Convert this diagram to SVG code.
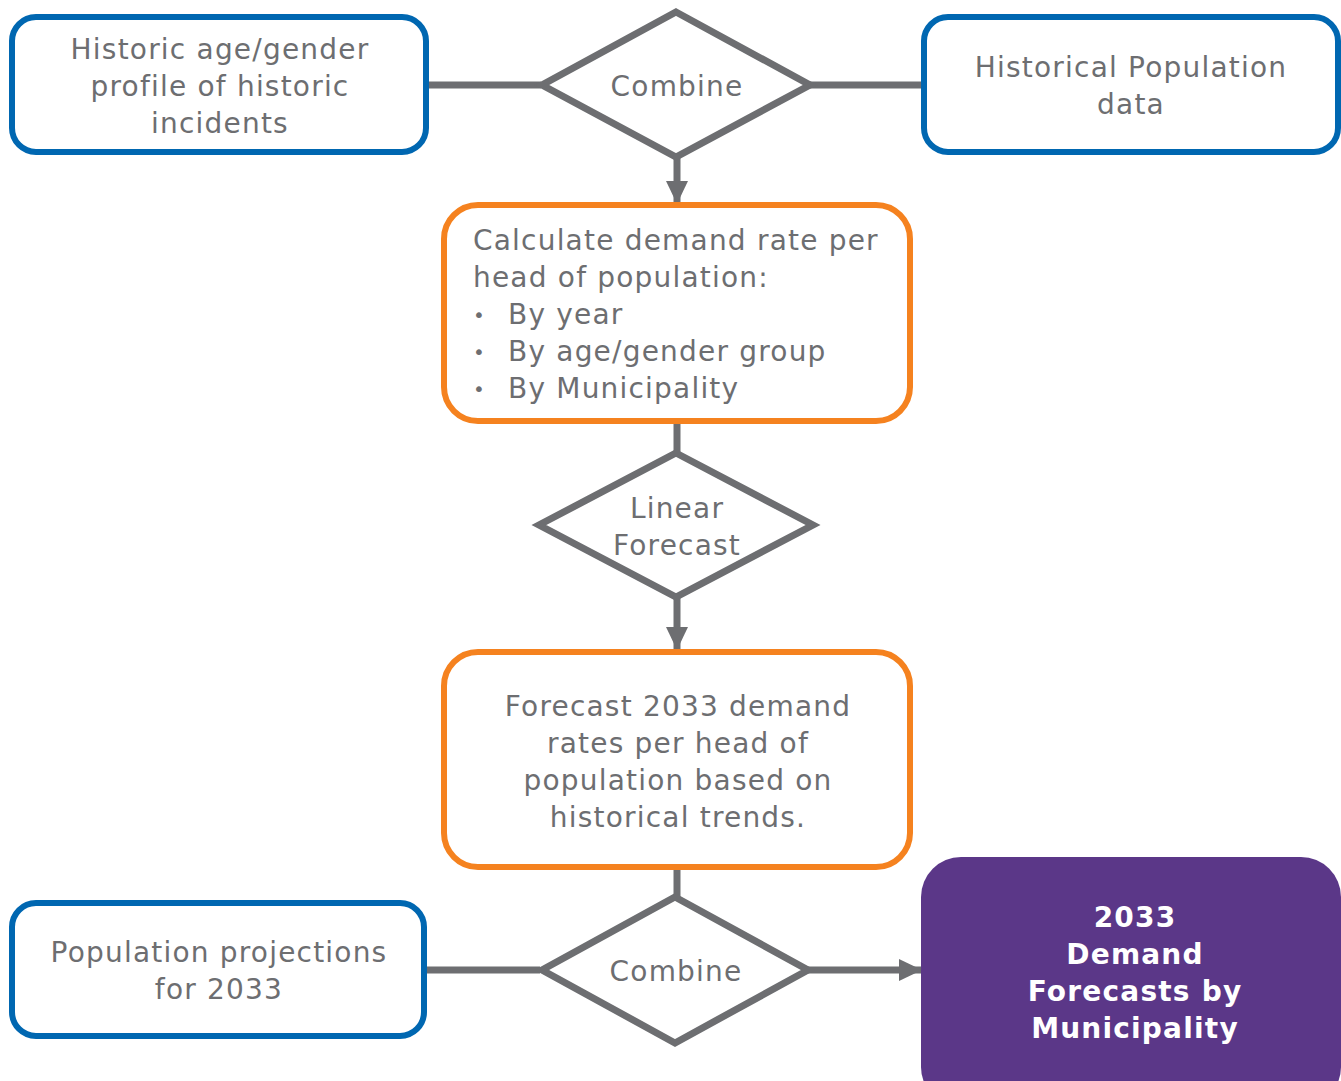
<svg xmlns="http://www.w3.org/2000/svg" width="1341" height="1081" viewBox="0 0 1341 1081">
<style>
.t{font-family:"DejaVu Sans","Liberation Sans",sans-serif;font-size:28px;fill:#6D6E71;text-anchor:middle;letter-spacing:1.2px}
.l{text-anchor:start}
.b{font-size:20px}
.w{fill:#fff;font-weight:bold}
.blue{fill:#fff;stroke:#0067B1;stroke-width:6}
.orange{fill:#fff;stroke:#F5821F;stroke-width:6}
.dia{fill:#fff;stroke:#6D6E71;stroke-width:7;stroke-linejoin:miter}
.c{stroke:#6D6E71;stroke-width:7;fill:none}
</style>
<defs>
<marker id="ah" markerWidth="24" markerHeight="22" refX="23" refY="11" orient="auto" markerUnits="userSpaceOnUse">
<path d="M0,0 L23,11 L0,22 Z" fill="#6D6E71"/>
</marker>
</defs>
<g id="connectors">
<line class="c" x1="427" y1="85" x2="541" y2="85"/>
<line class="c" x1="810" y1="85" x2="923" y2="85"/>
<line class="c" x1="677" y1="157" x2="677" y2="204" marker-end="url(#ah)"/>
<line class="c" x1="677" y1="422" x2="677" y2="453"/>
<line class="c" x1="677" y1="597" x2="677" y2="650" marker-end="url(#ah)"/>
<line class="c" x1="677" y1="868" x2="677" y2="897"/>
<line class="c" x1="425" y1="970" x2="540" y2="970"/>
<line class="c" x1="808" y1="970" x2="922" y2="970" marker-end="url(#ah)"/>
</g>
<g id="n1">
<rect class="blue" x="12" y="17" width="414" height="135" rx="24"/>
<text class="t" x="220" y="59">Historic age/gender</text>
<text class="t" x="220" y="96">profile of historic</text>
<text class="t" x="220" y="133">incidents</text>
</g>
<g id="d1">
<polygon class="dia" points="676,12 810,85 676,157 542,85"/>
<text class="t" x="677" y="96">Combine</text>
</g>
<g id="n2">
<rect class="blue" x="924" y="17" width="414" height="135" rx="24"/>
<text class="t" x="1131" y="77">Historical Population</text>
<text class="t" x="1131" y="114">data</text>
</g>
<g id="n3">
<rect class="orange" x="444" y="205" width="466" height="216" rx="34"/>
<text class="t l" x="473" y="250">Calculate demand rate per</text>
<text class="t l" x="473" y="287">head of population:</text>
<text class="t l b" x="473" y="322">•</text><text class="t l" x="508" y="324">By year</text>
<text class="t l b" x="473" y="359">•</text><text class="t l" x="508" y="361">By age/gender group</text>
<text class="t l b" x="473" y="396">•</text><text class="t l" x="508" y="398">By Municipality</text>
</g>
<g id="d2">
<polygon class="dia" points="676,453 813,525 676,597 539,525"/>
<text class="t" x="677" y="518">Linear</text>
<text class="t" x="677" y="555">Forecast</text>
</g>
<g id="n4">
<rect class="orange" x="444" y="652" width="466" height="215" rx="34"/>
<text class="t" x="678" y="716">Forecast 2033 demand</text>
<text class="t" x="678" y="753">rates per head of</text>
<text class="t" x="678" y="790">population based on</text>
<text class="t" x="678" y="827">historical trends.</text>
</g>
<g id="d3">
<polygon class="dia" points="675,897 808,970 675,1043 542,970"/>
<text class="t" x="676" y="981">Combine</text>
</g>
<g id="n5">
<rect class="blue" x="12" y="903" width="412" height="133" rx="24"/>
<text class="t" x="219" y="962">Population projections</text>
<text class="t" x="219" y="999">for 2033</text>
</g>
<g id="n6">
<rect x="921" y="857" width="420" height="250" rx="40" fill="#5B3788"/>
<text class="t w" x="1135" y="927">2033</text>
<text class="t w" x="1135" y="964">Demand</text>
<text class="t w" x="1135" y="1001">Forecasts by</text>
<text class="t w" x="1135" y="1038">Municipality</text>
</g>
</svg>
